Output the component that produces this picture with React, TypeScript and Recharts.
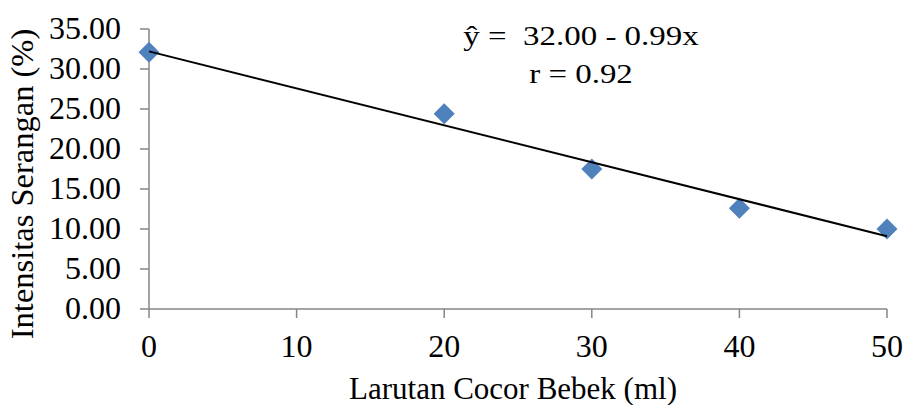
import { ScatterChart, Scatter, XAxis, YAxis } from 'recharts';

const doses = [0, 20, 30, 40, 50];
const intensity = [32.1, 24.4, 17.5, 12.6, 10.0];
const trendX = [0, 50];
const trendY = [32.2, 9.1];
const xTicks = [0, 10, 20, 30, 40, 50];
const yTicks = [0, 5, 10, 15, 20, 25, 30, 35];

const points = doses.map((x, i) => ({ x, y: intensity[i] }));
const trend = trendX.map((x, i) => ({ x, y: trendY[i] }));

const FONT = '"Liberation Serif", "Times New Roman", serif';
const AXIS = '#868686';

function Diamond({ cx, cy }: { cx?: number; cy?: number }) {
  if (cx == null || cy == null) return <g />;
  const r = 10.5;
  return (
    <polygon
      points={`${cx},${cy - r} ${cx + r},${cy} ${cx},${cy + r} ${cx - r},${cy}`}
      fill="#4F81BD"
    />
  );
}

function YTick({ x, y, payload }: any) {
  return (
    <text x={x} y={y} dy={9.5} textAnchor="end" fontFamily={FONT} fontSize={32} fill="#000">
      {Number(payload.value).toFixed(2)}
    </text>
  );
}

function XTick({ x, y, payload }: any) {
  return (
    <text x={x} y={y} dy={31} textAnchor="middle" fontFamily={FONT} fontSize={32} fill="#000">
      {payload.value}
    </text>
  );
}

export default function App() {
  return (
    <div style={{ position: 'absolute', left: 0, top: 0, width: 904, height: 405, background: '#fff' }}>
      <ScatterChart width={904} height={405} margin={{ top: 29, right: 17, bottom: 0, left: 0 }}>
        <XAxis
          type="number"
          dataKey="x"
          domain={[0, 50]}
          ticks={xTicks}
          height={96}
          tickSize={9}
          tickMargin={8}
          tick={<XTick />}
          axisLine={{ stroke: AXIS, strokeWidth: 1.5 }}
          tickLine={{ stroke: AXIS, strokeWidth: 1.5 }}
        />
        <YAxis
          type="number"
          dataKey="y"
          domain={[0, 35]}
          ticks={yTicks}
          width={149}
          tickSize={9}
          tickMargin={19}
          tick={<YTick />}
          axisLine={{ stroke: AXIS, strokeWidth: 1.5 }}
          tickLine={{ stroke: AXIS, strokeWidth: 1.5 }}
        />
        <Scatter data={points} shape={<Diamond />} isAnimationActive={false} />
        <Scatter
          data={trend}
          line={{ stroke: '#000', strokeWidth: 2 }}
          shape={() => <g />}
          isAnimationActive={false}
        />
      </ScatterChart>
      <svg
        width={904}
        height={405}
        style={{ position: 'absolute', left: 0, top: 0, pointerEvents: 'none' }}
      >
        <text
          x={513}
          y={399}
          textAnchor="middle"
          fontFamily={FONT}
          fontSize={31}
          fill="#000"
        >
          Larutan Cocor Bebek (ml)
        </text>
        <text
          transform="translate(33,184) rotate(-90)"
          textAnchor="middle"
          fontFamily={FONT}
          fontSize={32.5}
          fill="#000"
        >
          Intensitas Serangan (%)
        </text>
        <g transform="translate(581,0) scale(1.22,1)" fontFamily={FONT} fontSize={27} fill="#000">
          <text x={0} y={45} textAnchor="middle" style={{ whiteSpace: 'pre' }}>
            {'ŷ =  32.00 - 0.99x'}
          </text>
          <text x={0} y={83} textAnchor="middle">
            r = 0.92
          </text>
        </g>
      </svg>
    </div>
  );
}
